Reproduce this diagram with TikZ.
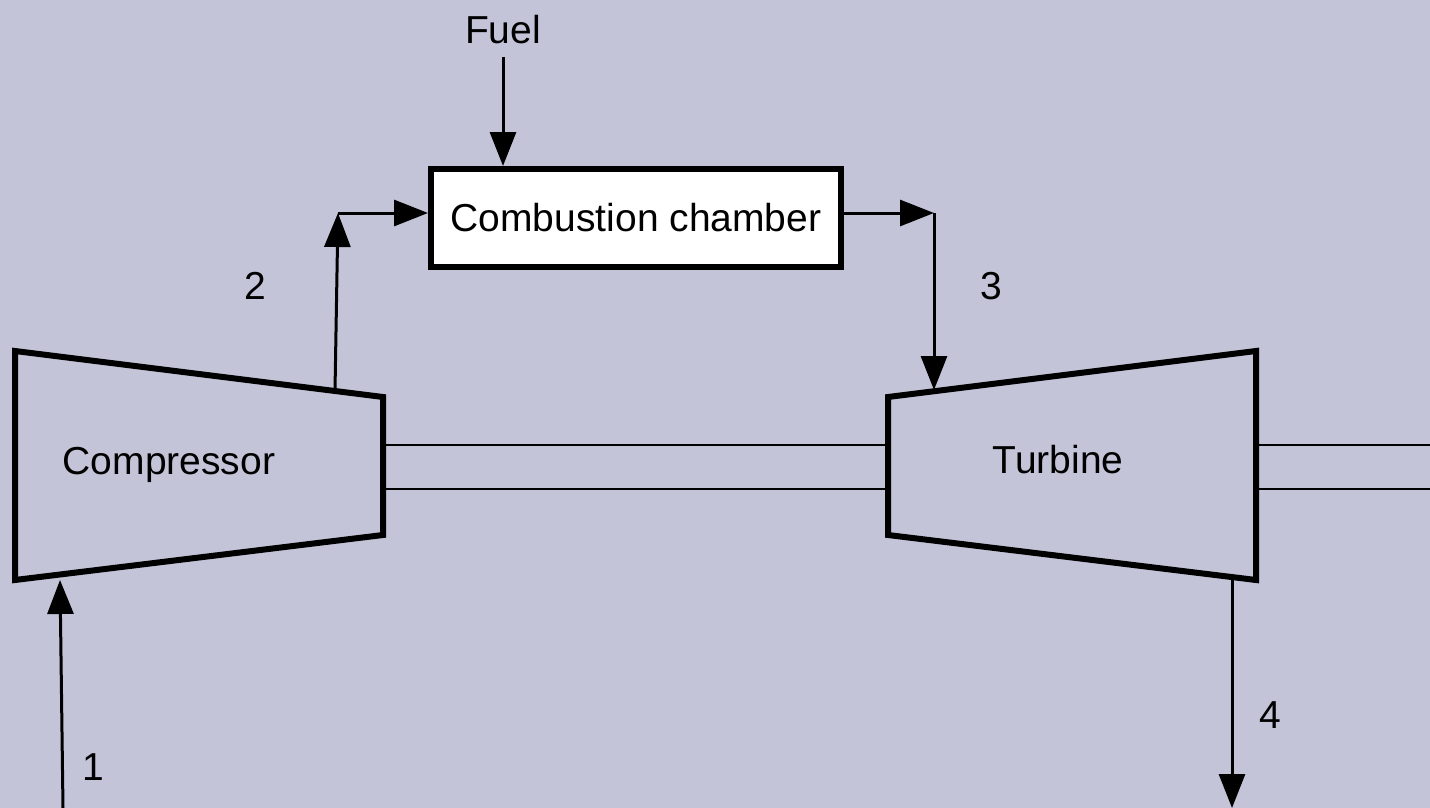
\documentclass[tikz,border=0pt]{standalone}
\usepackage{fontspec}
\setmainfont{Liberation Sans}
\usetikzlibrary{arrows.meta}
\definecolor{bg}{RGB}{195,196,216}
\begin{document}
\begin{tikzpicture}[x=1pt,y=-1pt,
  machine/.style={line width=6pt,line join=miter},
  flow/.style={line width=3pt,-{Triangle[length=34pt,width=26pt]}},
  shaft/.style={line width=2pt},
  lbl/.style={font=\fontsize{39}{44}\selectfont,inner sep=0pt}]
\fill[bg] (0,0) rectangle (1430,808);
\useasboundingbox (0,0) rectangle (1430,808);
% compressor
\coordinate (c1) at (15,351);
\coordinate (c2) at (383,397);
\coordinate (c3) at (383,535);
\coordinate (c4) at (15,580);
\draw[machine] (c1) -- (c2) -- (c3) -- (c4) -- cycle;
% turbine
\coordinate (t1) at (888,397);
\coordinate (t2) at (1256,351);
\coordinate (t3) at (1256,580);
\coordinate (t4) at (888,535);
\draw[machine] (t1) -- (t2) -- (t3) -- (t4) -- cycle;
% shafts
\coordinate (s1) at (383,445); \coordinate (s2) at (888,445);
\coordinate (s3) at (383,489); \coordinate (s4) at (888,489);
\coordinate (s5) at (1256,445); \coordinate (s6) at (1430,445);
\coordinate (s7) at (1256,489); \coordinate (s8) at (1430,489);
\draw[shaft] (s1) -- (s2) (s3) -- (s4) (s5) -- (s6) (s7) -- (s8);
% combustion chamber
\node[draw,fill=white,line width=6.5pt,minimum width=410pt,minimum height=98pt,inner sep=0pt,
  font=\fontsize{39}{44}\selectfont] (cc) at (636,218) {Combustion chamber};
\node[lbl] (comp) at (169,465) {Compressor};
\node[lbl] (turb) at (1058,460) {Turbine};
\node[lbl] (fuel) at (503,30) {Fuel};
\node[lbl] (l1) at (93,767) {1};
\node[lbl] (l2) at (255,286) {2};
\node[lbl] (l3) at (991,286) {3};
\node[lbl] (l4) at (1270,715) {4};
% flows
\coordinate (f0) at (503,57);
\coordinate (f1) at (503,166);
\draw[flow] (f0) -- (f1);
\coordinate (a0) at (335,391);
\coordinate (a1) at (338,213);
\coordinate (a2) at (428,213);
\draw[flow] (a0) -- (a1);
\draw[flow] (a1) -- (a2);
\coordinate (b0) at (844,213);
\coordinate (b1) at (934,213);
\coordinate (b2) at (934,390);
\draw[flow] (b0) -- (b1);
\draw[flow] (b1) -- (b2);
\coordinate (i0) at (63,808);
\coordinate (i1) at (60,580);
\draw[flow] (i0) -- (i1);
\coordinate (o0) at (1232,580);
\coordinate (o1) at (1232,808);
\draw[flow] (o0) -- (o1);
\end{tikzpicture}
\end{document}
